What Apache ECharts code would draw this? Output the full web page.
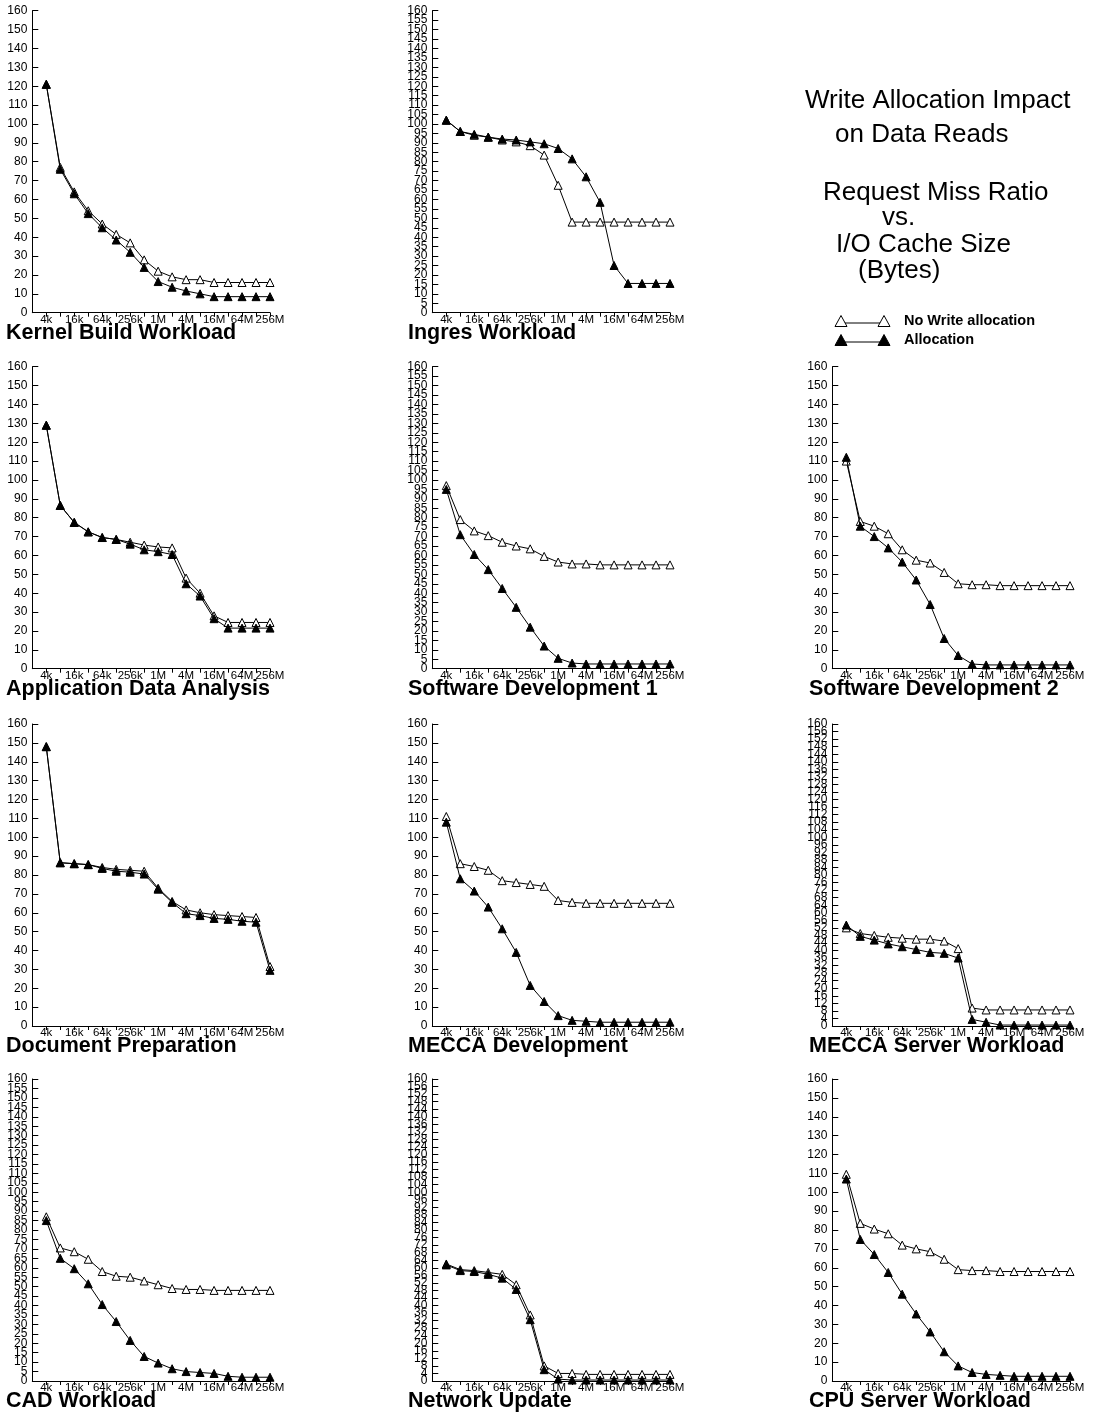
<!DOCTYPE html>
<html>
<head>
<meta charset="utf-8">
<title>Write Allocation Impact on Data Reads</title>
<script src="https://cdn.jsdelivr.net/npm/echarts@6/dist/echarts.min.js"></script>
<style>
  html, body { margin: 0; padding: 0; background: #fff; }
  #chart { width: 1095px; height: 1416px; }
</style>
</head>
<body>
<div id="chart"></div>
<script>
// I/O cache sizes (bytes), one point per power of two
const cacheSizes = ['4k', '8k', '16k', '32k', '64k', '128k', '256k', '512k', '1M', '2M', '4M', '8M', '16M', '32M', '64M', '128M', '256M'];

// Request miss ratio per workload: "No Write allocation" vs "Allocation"
const kernelNoWrite = [121, 77, 64, 54, 47, 41.5, 37, 28, 22, 19, 17.5, 17.5, 16, 16, 16, 16, 16];
const kernelAlloc   = [121, 76, 63, 52.5, 45, 38.5, 32, 24, 16.5, 13.5, 11.5, 10, 8.5, 8.5, 8.5, 8.5, 8.5];

const ingresNoWrite = [102, 96, 94, 93, 91.5, 90.5, 88.5, 83.5, 67.5, 48, 48, 48, 48, 48, 48, 48, 48];
const ingresAlloc   = [102, 96, 94.5, 93, 92, 91.5, 90.5, 89.5, 87, 81.5, 72, 58.5, 25, 15.5, 15.5, 15.5, 15.5];

const appNoWrite = [129, 86.5, 77.5, 72.5, 69.5, 68.5, 67, 65.5, 64.5, 64, 48, 40, 28, 24.5, 24.5, 24.5, 24.5];
const appAlloc   = [129, 86.5, 77.5, 72.5, 69.5, 68.5, 66, 63, 62, 60.5, 45, 38.5, 26.5, 21.5, 21.5, 21.5, 21.5];

const sw1NoWrite = [97, 79, 73, 70.5, 67, 65, 63.5, 59.5, 56.5, 55.5, 55.5, 55, 55, 55, 55, 55, 55];
const sw1Alloc   = [95, 71, 60.5, 52.5, 42.5, 32.5, 22, 12, 5.5, 3, 2.5, 2.5, 2.5, 2.5, 2.5, 2.5, 2.5];

const sw2NoWrite = [110, 78, 75.5, 71.5, 63, 57.5, 56, 51, 45, 44.5, 44.5, 44, 44, 44, 44, 44, 44];
const sw2Alloc   = [112, 75.5, 70, 64, 56.5, 47, 34, 16, 7, 2.5, 2, 2, 2, 2, 2, 2, 2];

const docNoWrite = [148, 86.5, 86, 85.5, 84, 83, 82.5, 82, 73, 66, 61.5, 60, 59, 58.5, 58, 57.5, 31.5];
const docAlloc   = [148, 86.5, 86, 85.5, 83.5, 82, 81.5, 80.5, 72.5, 65.5, 59.5, 58.5, 57, 56.5, 55.5, 55, 29.5];

const meccaDevNoWrite = [111, 86, 84.5, 82.5, 77, 76, 75, 74, 66.5, 65.5, 65, 65, 65, 65, 65, 65, 65];
const meccaDevAlloc   = [108, 78, 71.5, 63, 51.5, 39, 21.5, 13, 5.5, 3, 2.5, 2, 2, 2, 2, 2, 2];

const meccaSrvNoWrite = [52, 49, 48, 47, 46.5, 46, 46, 45, 41, 9.5, 8.5, 8.5, 8.5, 8.5, 8.5, 8.5, 8.5];
const meccaSrvAlloc   = [53.5, 47.5, 45.5, 43.5, 42, 40.5, 39, 38.5, 36, 3.5, 2, 0.5, 0.5, 0.5, 0.5, 0.5, 0.5];

const cadNoWrite = [87, 70.5, 68.5, 64.5, 58, 55.5, 55, 53, 51, 49, 48.5, 48.5, 48, 48, 48, 48, 48];
const cadAlloc   = [85, 65, 59.5, 51.5, 40.5, 31.5, 21.5, 13, 9.5, 6.5, 5, 4.5, 4, 2.5, 2, 2, 2];

const netNoWrite = [62, 59, 58.5, 57.5, 56.5, 51, 35, 8, 4, 4, 3.5, 3.5, 3.5, 3.5, 3.5, 3.5, 3.5];
const netAlloc   = [61.5, 58.5, 58, 56.5, 54.5, 48.5, 32.5, 6, 1, 0.5, 0.5, 0.5, 0.5, 0.5, 0.5, 0.5, 0.5];

const cpuNoWrite = [109.5, 83.5, 80.5, 78, 72, 70, 68.5, 64.5, 59, 58.5, 58.5, 58, 58, 58, 58, 58, 58];
const cpuAlloc   = [107, 75, 67, 57.5, 46, 35.5, 26, 15.5, 8, 4.5, 3.5, 3, 2.5, 2.5, 2.5, 2.5, 2.5];

// Y tick step used by each panel
const panels = [
  { title: 'Kernel Build Workload',     row: 0, col: 0, step: 10, noWrite: kernelNoWrite,   alloc: kernelAlloc },
  { title: 'Ingres Workload',           row: 0, col: 1, step: 5,  noWrite: ingresNoWrite,   alloc: ingresAlloc },
  { title: 'Application Data Analysis', row: 1, col: 0, step: 10, noWrite: appNoWrite,      alloc: appAlloc },
  { title: 'Software Development 1',    row: 1, col: 1, step: 5,  noWrite: sw1NoWrite,      alloc: sw1Alloc },
  { title: 'Software Development 2',    row: 1, col: 2, step: 10, noWrite: sw2NoWrite,      alloc: sw2Alloc },
  { title: 'Document Preparation',      row: 2, col: 0, step: 10, noWrite: docNoWrite,      alloc: docAlloc },
  { title: 'MECCA Development',         row: 2, col: 1, step: 10, noWrite: meccaDevNoWrite, alloc: meccaDevAlloc },
  { title: 'MECCA Server Workload',     row: 2, col: 2, step: 4,  noWrite: meccaSrvNoWrite, alloc: meccaSrvAlloc },
  { title: 'CAD Workload',              row: 3, col: 0, step: 5,  noWrite: cadNoWrite,      alloc: cadAlloc },
  { title: 'Network Update',            row: 3, col: 1, step: 4,  noWrite: netNoWrite,      alloc: netAlloc },
  { title: 'CPU Server Workload',       row: 3, col: 2, step: 10, noWrite: cpuNoWrite,      alloc: cpuAlloc }
];

const Y_MIN = 0;
const Y_MAX = 160;

// Page layout of the panel grid
const colLeft = [32.3, 432.3, 832.3];
const rowTop = [10.7, 366.7, 724, 1079];
const plotW = 237.7;
const plotH = 302;
const titleX = [6, 408, 809];
const titleGap = 20;

const FONT = '"Liberation Sans", Arial, Helvetica, sans-serif';
const BLACK = '#000';

const yLabelStyle = { margin: 5, fontSize: 12, color: BLACK, fontFamily: FONT, hideOverlap: false };
const yTickStyle = { show: true, inside: true, length: 6, lineStyle: { color: BLACK, width: 1 } };

const grids = [], xAxes = [], yAxes = [], series = [], graphics = [];

panels.forEach((p, i) => {
  const left = colLeft[p.col];
  const top = rowTop[p.row];
  grids.push({ left: left, top: top, width: plotW, height: plotH, containLabel: false });

  xAxes.push({
    type: 'category',
    gridIndex: i,
    data: [''].concat(cacheSizes),
    boundaryGap: false,
    axisLine: { show: true, onZero: false, lineStyle: { color: BLACK, width: 1 } },
    axisTick: { show: true, length: 4, interval: (idx) => idx > 0, lineStyle: { color: BLACK, width: 1 } },
    axisLabel: {
      interval: (idx) => idx > 0 && (idx - 1) % 2 === 0,
      margin: 1, fontSize: 11.5, color: BLACK, fontFamily: FONT
    },
    splitLine: { show: false }
  });

  // Inner ticks/labels: every step between the ends, none dropped when packed tightly
  const mainY = yAxes.length;
  yAxes.push({
    type: 'value',
    gridIndex: i, position: 'left', offset: 0,
    min: Y_MIN, max: Y_MAX, interval: p.step,
    axisLine: { show: true, lineStyle: { color: BLACK, width: 1 } },
    axisTick: yTickStyle,
    axisLabel: Object.assign({ showMinLabel: false, showMaxLabel: false }, yLabelStyle),
    splitLine: { show: false }
  });
  // End ticks/labels (0 and 160) on an overlaid axis sharing the same scale
  yAxes.push({
    type: 'value',
    gridIndex: i, position: 'left', offset: 0,
    min: Y_MIN, max: Y_MAX, interval: Y_MAX - Y_MIN,
    axisLine: { show: false },
    axisTick: yTickStyle,
    axisLabel: Object.assign({ showMinLabel: true, showMaxLabel: true }, yLabelStyle),
    splitLine: { show: false }
  });

  // open triangles first, filled triangles drawn on top
  series.push({
    name: 'No Write allocation',
    type: 'line',
    xAxisIndex: i, yAxisIndex: mainY,
    data: ['-'].concat(p.noWrite),
    symbol: 'triangle', symbolSize: 8, showAllSymbol: true,
    lineStyle: { color: BLACK, width: 1 },
    itemStyle: { color: '#fff', borderColor: BLACK, borderWidth: 1 },
    z: 2
  });
  series.push({
    name: 'Allocation',
    type: 'line',
    xAxisIndex: i, yAxisIndex: mainY,
    data: ['-'].concat(p.alloc),
    symbol: 'triangle', symbolSize: 8, showAllSymbol: true,
    lineStyle: { color: BLACK, width: 1 },
    itemStyle: { color: BLACK, borderColor: BLACK, borderWidth: 1 },
    z: 3
  });

  graphics.push({
    type: 'text',
    x: titleX[p.col],
    y: top + plotH + titleGap,
    style: {
      text: p.title, fill: BLACK, fontSize: 21.5, fontWeight: 'bold',
      fontFamily: FONT, verticalAlign: 'middle', align: 'left'
    }
  });
});

// Heading block in the empty upper-right slot
const headingLines = [
  { text: 'Write Allocation Impact', x: 805, y: 101 },
  { text: 'on Data Reads',           x: 835, y: 135 },
  { text: 'Request Miss Ratio',      x: 823, y: 193 },
  { text: 'vs.',                     x: 882, y: 218 },
  { text: 'I/O Cache Size',          x: 836, y: 245 },
  { text: '(Bytes)',                 x: 858, y: 271 }
];
headingLines.forEach(l => {
  graphics.push({
    type: 'text', x: l.x, y: l.y,
    style: { text: l.text, fill: BLACK, fontSize: 26, fontFamily: FONT, verticalAlign: 'middle', align: 'left' }
  });
});

// Legend: symbol - line - symbol, then the series name
function legendTriangle(cx, cy, filled) {
  const h = 11, w = 12;
  return {
    type: 'polygon',
    shape: { points: [[cx, cy - h / 2], [cx + w / 2, cy + h / 2], [cx - w / 2, cy + h / 2]] },
    style: { fill: filled ? BLACK : '#fff', stroke: BLACK, lineWidth: 1 },
    z: 10
  };
}
const legendRows = [
  { name: 'No Write allocation', y: 321, filled: false },
  { name: 'Allocation',          y: 340, filled: true }
];
legendRows.forEach(r => {
  graphics.push({
    type: 'line',
    shape: { x1: 841, y1: r.y + 2, x2: 884, y2: r.y + 2 },
    style: { stroke: BLACK, lineWidth: 1 }, z: 9
  });
  graphics.push(legendTriangle(841, r.y, r.filled));
  graphics.push(legendTriangle(884, r.y, r.filled));
  graphics.push({
    type: 'text', x: 904, y: r.y,
    style: { text: r.name, fill: BLACK, fontSize: 14.5, fontWeight: 'bold', fontFamily: FONT, verticalAlign: 'middle', align: 'left' }
  });
});

const chart = echarts.init(document.getElementById('chart'), null, { renderer: 'canvas' });
chart.setOption({
  backgroundColor: '#fff',
  animation: false,
  textStyle: { fontFamily: FONT },
  grid: grids,
  xAxis: xAxes,
  yAxis: yAxes,
  series: series,
  graphic: graphics
});
</script>
</body>
</html>
